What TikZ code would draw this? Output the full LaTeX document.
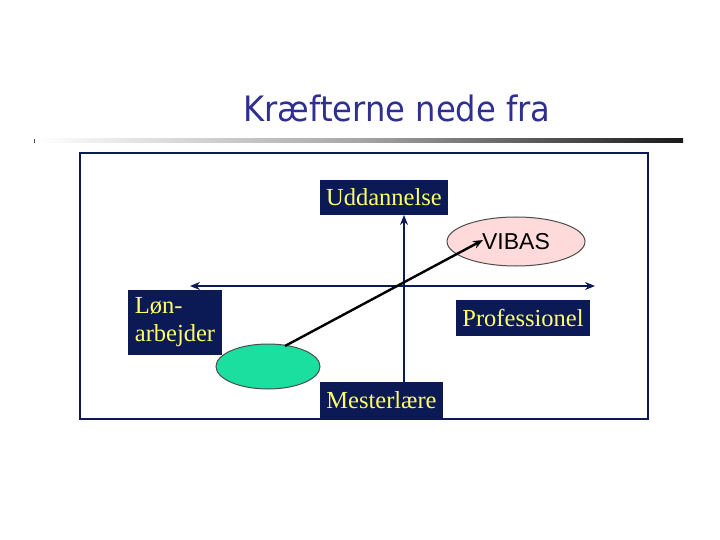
\documentclass[tikz,border=0pt]{standalone}
\usepackage{fontspec}
\setmainfont{Liberation Serif}
\newfontfamily\titlefont{DejaVu Sans}
\newfontfamily\arialfont{Liberation Sans}
\usetikzlibrary{arrows.meta,shapes.geometric}
\definecolor{navy}{HTML}{0B1A55}
\definecolor{ttl}{HTML}{2F2F8F}
\definecolor{ylw}{HTML}{FFFF66}
\definecolor{pinkf}{HTML}{FFDADA}
\definecolor{mint}{HTML}{1BDF9F}
\tikzset{
  lbox/.style={fill=navy, text=ylw, font=\fontsize{24.5}{26}\selectfont, inner sep=0pt, anchor=center},
  axis/.style={draw=navy, line width=2.4pt, -{Stealth[length=10pt,width=8pt]}},
}
\begin{document}
\begin{tikzpicture}[x=1pt,y=-1pt]
\useasboundingbox (0,0) rectangle (720,540);
% title
\node[text=ttl, font=\titlefont\fontsize{35}{37}\selectfont, inner sep=0pt] (title) at (397,108) {\scalebox{0.92}[1]{Kræfterne nede fra}};
% gradient rule
\shade[left color=white, right color=black!90, middle color=black!35] (37,139) rectangle (683,143);
\draw[black!70, line width=0.8pt] (34.5,139) -- (34.5,143.5);
% frame
\draw[navy, line width=1.3pt] (80,153) rectangle (648,419);
% boxes
\node[lbox, minimum width=128pt, minimum height=35pt] (udd) at (384,197.5) {Uddannelse};
\node[lbox, minimum width=134pt, minimum height=36pt] (prof) at (523,318) {Professionel};
\node[lbox, minimum width=123pt, minimum height=37pt] (mest) at (381.5,400.5) {Mesterlære};
\node[lbox, minimum width=94pt, minimum height=65pt, align=left, font=\fontsize{24.5}{28}\selectfont] (lon) at (175,322.5) {Løn-\\arbejder\hspace{4pt}};
% ellipses
\node[ellipse, draw=black!70, line width=1pt, fill=pinkf, minimum width=138pt, minimum height=49pt, inner sep=0pt] (vibas) at (516,241.5) {};
\node[font=\arialfont\fontsize{23}{25}\selectfont, inner sep=0pt] (vibastxt) at (516,241.5) {VIBAS};
\node[ellipse, draw=black!70, line width=1pt, fill=mint, minimum width=104pt, minimum height=45pt, inner sep=0pt] (grn) at (268,366.5) {};
% axes
\coordinate (hl) at (190,286);
\coordinate (hr) at (595,286);
\coordinate (vt) at (404,215);
\coordinate (vb) at (404,382);
\coordinate (hmid) at (404,286);
\draw[axis] (hmid) -- (hl);
\draw[axis] (hmid) -- (hr);
\draw[axis] (vb) -- (vt);
% diagonal arrow
\coordinate (astart) at (285,346);
\coordinate (aend) at (483,240);
\draw[black, line width=2.4pt, -{Stealth[length=10pt,width=8pt]}] (astart) -- (aend);
\end{tikzpicture}
\end{document}
